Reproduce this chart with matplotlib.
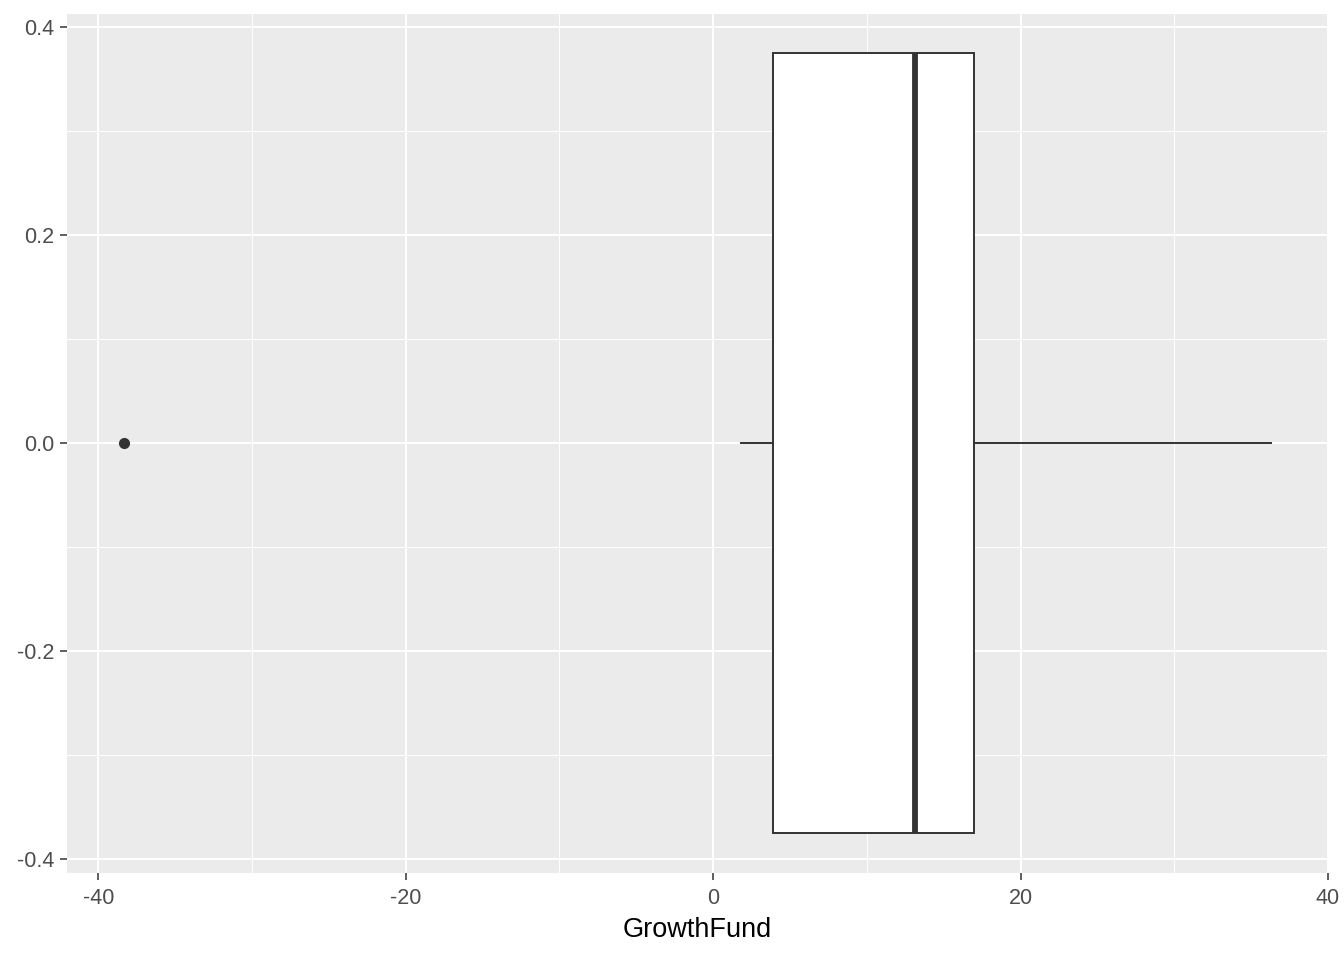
import matplotlib.pyplot as plt

# GrowthFund box plot summary
whisker_low = 1.8
q1 = 3.9
median = 13.1
q3 = 17.0
whisker_high = 36.3
outliers = [-38.3]

x_ticks = [-40, -20, 0, 20, 40]
y_ticks = [-0.4, -0.2, 0.0, 0.2, 0.4]

plt.rcParams['font.family'] = ['Liberation Sans', 'DejaVu Sans']

fig = plt.figure(figsize=(13.44, 9.6), dpi=100)
ax = fig.add_axes([67 / 1344, 1 - 872.5 / 960, (1328.5 - 67) / 1344, (872.5 - 13.5) / 960])
ax.set_facecolor('#EBEBEB')

stats = [dict(med=median, q1=q1, q3=q3, whislo=whisker_low, whishi=whisker_high, fliers=outliers)]
ax.bxp(stats, positions=[0], widths=0.75, vert=False, showcaps=False, patch_artist=True,
       boxprops=dict(facecolor='white', edgecolor='#333333', linewidth=1.4),
       medianprops=dict(color='#333333', linewidth=4.2, solid_capstyle='butt'),
       whiskerprops=dict(color='#333333', linewidth=1.4),
       flierprops=dict(marker='o', markerfacecolor='#333333', markeredgecolor='#333333', markersize=7),
       zorder=3)

data_lo = min(outliers + [whisker_low])
data_hi = whisker_high
pad = (data_hi - data_lo) * 0.05
ax.set_xlim(data_lo - pad, data_hi + pad)
ax.set_ylim(-0.375 - 0.0375, 0.375 + 0.0375)

ax.set_xticks(x_ticks)
ax.set_xticklabels([str(t) for t in x_ticks])
ax.set_xticks([-30, -10, 10, 30], minor=True)
ax.set_yticks(y_ticks)
ax.set_yticklabels([f'{t:.1f}' for t in y_ticks])
ax.set_yticks([-0.3, -0.1, 0.1, 0.3], minor=True)

ax.grid(which='major', color='white', linewidth=1.4)
ax.grid(which='minor', color='white', linewidth=0.7)
ax.set_axisbelow(True)
for s in ax.spines.values():
    s.set_visible(False)

ax.tick_params(which='major', length=5, width=1.1, color='#333333', labelsize=15.5, labelcolor='#4D4D4D')
ax.tick_params(axis='x', which='major', pad=6)
ax.tick_params(axis='y', which='major', pad=4)
ax.tick_params(which='minor', length=0)
ax.set_xlabel('GrowthFund', fontsize=19.5, color='black', labelpad=6)

fig.savefig('out.png', dpi=100)
